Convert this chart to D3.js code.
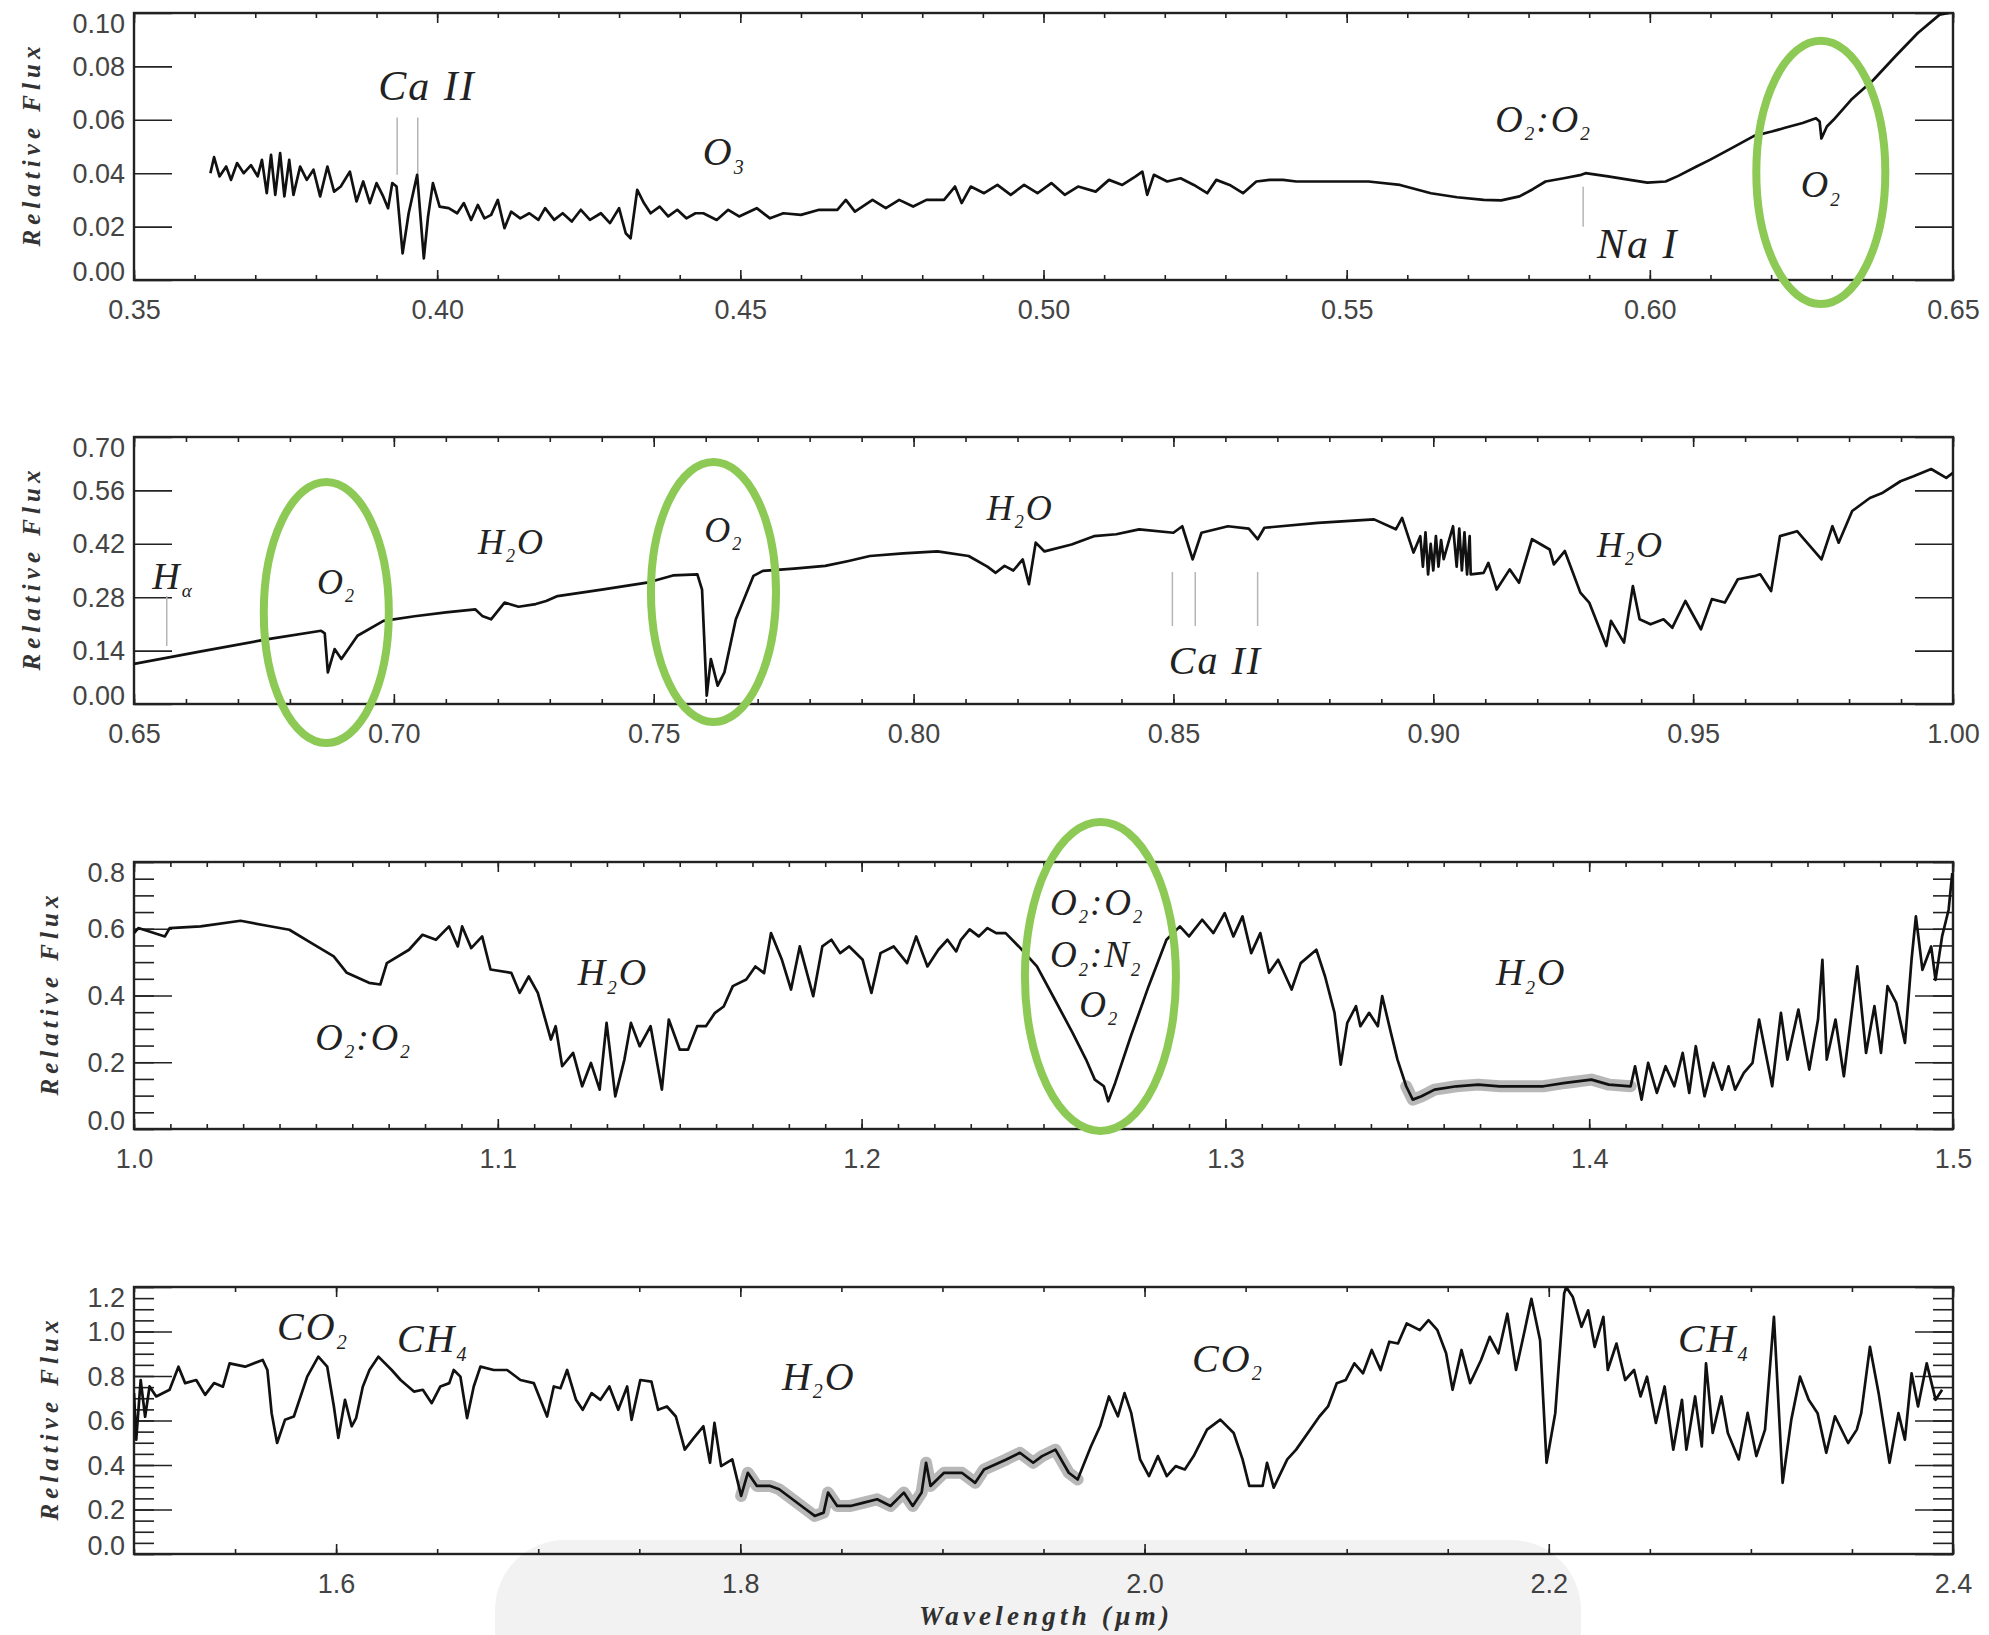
<!DOCTYPE html>
<html>
<head>
<meta charset="utf-8">
<script src="https://cdn.jsdelivr.net/npm/d3@7"></script>
<style>
  body { margin: 0; background: #fff; }
  svg { display: block; }
</style>
</head>
<body>
<div id="grafico"></div>
<script>
// Espectro visível (0.35 - 0.65 µm): [comprimento de onda, fluxo relativo]
const espectro1 = [
  [0.3626,0.040],[0.3632,0.046],[0.3641,0.0388],[0.3652,0.0425],[0.366,0.0375],[0.367,0.0438],[0.3681,0.040],
  [0.3693,0.043],[0.3704,0.0388],[0.3711,0.045],[0.3719,0.0325],[0.3726,0.0469],[0.3733,0.0319],[0.3741,0.0475],
  [0.3748,0.0313],[0.3756,0.045],[0.3763,0.0319],[0.3774,0.0425],[0.3785,0.0375],[0.3796,0.0413],[0.3807,0.0313],
  [0.3819,0.0425],[0.383,0.0331],[0.3841,0.035],[0.3856,0.0406],[0.3867,0.0294],[0.3878,0.0369],[0.3889,0.0288],
  [0.39,0.0363],[0.3911,0.0313],[0.3919,0.0269],[0.3926,0.0363],[0.3933,0.035],[0.3943,0.010],[0.3953,0.025],
  [0.3967,0.0394],[0.3978,0.0081],[0.3985,0.0238],[0.3993,0.0363],[0.4004,0.0275],[0.4019,0.0269],[0.4033,0.025],
  [0.4044,0.0288],[0.4056,0.0225],[0.4067,0.0281],[0.4078,0.0231],[0.4089,0.0244],[0.41,0.030],[0.4111,0.0194],
  [0.4122,0.0256],[0.4137,0.0231],[0.4152,0.025],[0.4167,0.0225],[0.4178,0.0269],[0.4193,0.0225],[0.4207,0.025],
  [0.4222,0.0219],[0.4237,0.0263],[0.4252,0.0225],[0.427,0.025],[0.4285,0.0213],[0.43,0.0269],[0.4311,0.0175],
  [0.4319,0.0156],[0.433,0.0338],[0.4341,0.0288],[0.4352,0.025],[0.4367,0.0275],[0.4381,0.0238],[0.4396,0.0263],
  [0.4411,0.0231],[0.4426,0.025],[0.4439,0.025],[0.4461,0.0225],[0.448,0.0263],[0.4498,0.0238],[0.4527,0.0269],
  [0.4549,0.0231],[0.4571,0.025],[0.46,0.0244],[0.463,0.0263],[0.466,0.0263],[0.4674,0.030],[0.4689,0.0256],
  [0.4718,0.030],[0.474,0.0269],[0.4762,0.030],[0.4785,0.0275],[0.4807,0.030],[0.4836,0.030],[0.4854,0.035],
  [0.4865,0.0288],[0.488,0.035],[0.4902,0.0325],[0.4924,0.0356],[0.4946,0.0319],[0.4968,0.0356],[0.499,0.0325],
  [0.5013,0.0363],[0.5035,0.0319],[0.5057,0.035],[0.5086,0.0331],[0.5108,0.0375],[0.513,0.0356],[0.5152,0.0388],
  [0.5163,0.0406],[0.5171,0.0319],[0.5182,0.0394],[0.5204,0.0369],[0.5226,0.0381],[0.5248,0.0356],[0.527,0.0325],
  [0.5285,0.0375],[0.5307,0.0356],[0.5329,0.0325],[0.5351,0.0369],[0.5373,0.0375],[0.5395,0.0375],[0.5417,0.0369],
  [0.5454,0.0369],[0.5498,0.0369],[0.5536,0.0369],[0.5588,0.0356],[0.5639,0.0325],[0.5682,0.031],[0.5726,0.030],
  [0.5755,0.0298],[0.5785,0.0313],[0.5807,0.034],[0.5828,0.0369],[0.5858,0.0381],[0.5887,0.0394],[0.5894,0.040],
  [0.5931,0.0388],[0.5967,0.0375],[0.5996,0.0365],[0.6026,0.0369],[0.6047,0.039],[0.6077,0.0425],[0.6099,0.045],
  [0.6135,0.0494],[0.6172,0.054],[0.6201,0.0556],[0.6223,0.057],[0.6252,0.0588],[0.6274,0.0606],[0.628,0.0594],
  [0.6283,0.053],[0.6292,0.0575],[0.6303,0.060],[0.6332,0.0675],[0.6369,0.075],[0.6405,0.0838],[0.6442,0.0925],
  [0.6478,0.0994],[0.6493,0.100]
];

// Espectro vermelho (0.65 - 1.00 µm)
const espectro2 = [
  [0.65,0.105],[0.6629,0.138],[0.6758,0.170],[0.686,0.192],[0.6867,0.185],[0.6873,0.083],[0.6886,0.144],
  [0.6899,0.118],[0.693,0.179],[0.698,0.218],[0.704,0.230],[0.710,0.240],[0.7157,0.248],[0.717,0.231],
  [0.7187,0.222],[0.7213,0.266],[0.724,0.255],[0.7273,0.262],[0.7293,0.270],[0.7315,0.283],[0.740,0.30],
  [0.7487,0.318],[0.7537,0.337],[0.7584,0.34],[0.7593,0.30],[0.7602,0.022],[0.761,0.118],[0.7623,0.048],
  [0.7636,0.083],[0.7658,0.222],[0.7692,0.336],[0.771,0.349],[0.777,0.355],[0.783,0.362],[0.7875,0.375],
  [0.7916,0.388],[0.798,0.395],[0.8046,0.40],[0.8106,0.388],[0.8142,0.36],[0.8158,0.344],[0.8175,0.362],
  [0.8192,0.35],[0.821,0.379],[0.8222,0.314],[0.8235,0.423],[0.8252,0.40],[0.8304,0.418],[0.8347,0.44],
  [0.839,0.445],[0.8434,0.458],[0.85,0.449],[0.8517,0.466],[0.8537,0.379],[0.8554,0.449],[0.8605,0.466],
  [0.8645,0.46],[0.8662,0.432],[0.8675,0.462],[0.8778,0.475],[0.8886,0.484],[0.8928,0.458],[0.894,0.488],
  [0.8962,0.397],[0.8975,0.44],[0.898,0.36],[0.8985,0.45],[0.899,0.34],[0.8995,0.42],[0.9,0.35],[0.9005,0.44],
  [0.901,0.36],[0.9015,0.43],[0.902,0.38],[0.9038,0.466],[0.9045,0.36],[0.905,0.46],[0.9055,0.35],[0.906,0.45],
  [0.9065,0.34],[0.907,0.44],[0.9072,0.34],[0.9097,0.344],[0.9106,0.37],[0.9122,0.30],[0.9147,0.353],
  [0.9165,0.318],[0.919,0.432],[0.9224,0.405],[0.9232,0.366],[0.9253,0.401],[0.9283,0.292],[0.930,0.266],
  [0.9333,0.152],[0.9342,0.218],[0.9367,0.161],[0.9384,0.309],[0.9397,0.222],[0.9418,0.209],[0.9443,0.222],
  [0.946,0.200],[0.9485,0.27],[0.9515,0.196],[0.9536,0.275],[0.9561,0.266],[0.9586,0.327],[0.962,0.336],
  [0.9629,0.34],[0.965,0.296],[0.9667,0.44],[0.97,0.453],[0.9747,0.379],[0.9768,0.466],[0.978,0.423],
  [0.9806,0.506],[0.984,0.54],[0.9865,0.554],[0.9899,0.584],[0.9924,0.597],[0.9958,0.616],[0.9987,0.593],
  [1.0,0.606]
];

// Infravermelho próximo (1.0 - 1.5 µm)
const espectro3 = [
  [1.0,0.587],[1.0012,0.602],[1.0085,0.577],[1.0098,0.602],[1.0183,0.607],[1.0293,0.624],[1.0366,0.609],
  [1.0427,0.597],[1.0488,0.557],[1.0549,0.517],[1.0585,0.468],[1.0646,0.438],[1.0677,0.433],[1.0695,0.497],
  [1.0756,0.537],[1.0793,0.582],[1.083,0.567],[1.0866,0.607],[1.089,0.547],[1.0902,0.607],[1.0927,0.542],
  [1.0957,0.577],[1.098,0.478],[1.1037,0.468],[1.106,0.408],[1.1085,0.457],[1.111,0.408],[1.1146,0.268],
  [1.1159,0.308],[1.1177,0.188],[1.1207,0.228],[1.1232,0.128],[1.1256,0.198],[1.128,0.118],[1.1299,0.318],
  [1.1323,0.098],[1.1348,0.208],[1.1366,0.318],[1.139,0.248],[1.142,0.308],[1.1451,0.118],[1.147,0.328],
  [1.15,0.238],[1.1523,0.238],[1.1548,0.308],[1.1572,0.308],[1.1597,0.348],[1.1621,0.367],[1.1646,0.428],
  [1.1683,0.448],[1.1708,0.487],[1.1732,0.467],[1.1751,0.587],[1.1781,0.507],[1.1806,0.418],[1.183,0.547],
  [1.1867,0.398],[1.1892,0.547],[1.1917,0.567],[1.1941,0.527],[1.1966,0.547],[1.2003,0.507],[1.2027,0.408],
  [1.2052,0.527],[1.2088,0.547],[1.2125,0.497],[1.215,0.577],[1.2181,0.487],[1.2211,0.537],[1.2236,0.567],
  [1.226,0.532],[1.2273,0.567],[1.2297,0.598],[1.2322,0.577],[1.2346,0.602],[1.237,0.587],[1.2396,0.587],
  [1.2432,0.547],[1.2482,0.487],[1.2531,0.388],
  [1.258,0.288],[1.2617,0.208],[1.2641,0.148],[1.2666,0.128],[1.2678,0.083],[1.2697,0.138],[1.274,0.278],
  [1.2789,0.428],[1.2838,0.567],[1.2875,0.607],[1.29,0.577],[1.2936,0.627],[1.2967,0.587],[1.2998,0.647],
  [1.3022,0.577],[1.3047,0.637],[1.3071,0.527],[1.3096,0.587],[1.312,0.468],[1.3145,0.507],[1.3182,0.418],
  [1.3207,0.497],[1.325,0.537],[1.3274,0.457],[1.33,0.348],[1.3317,0.193],[1.3335,0.318],[1.3359,0.368],
  [1.3371,0.308],[1.3395,0.348],[1.3419,0.308],[1.3431,0.398],[1.3455,0.288],[1.3473,0.208],[1.3497,0.128],
  [1.3515,0.088],[1.3539,0.098],[1.3575,0.118],[1.3635,0.128],[1.3695,0.133],[1.3754,0.128],[1.3814,0.128],
  [1.3874,0.128],[1.3934,0.138],[1.4006,0.148],[1.4054,0.133],[1.4114,0.128],[1.4126,0.188],[1.4144,0.088],
  [1.4162,0.198],[1.4186,0.108],[1.421,0.188],[1.4234,0.128],[1.4257,0.228],[1.4275,0.108],[1.4293,0.248],
  [1.4317,0.098],[1.4341,0.198],[1.4365,0.118],[1.4383,0.188],[1.4401,0.118],[1.4425,0.168],[1.4449,0.198],
  [1.4467,0.328],[1.4485,0.228],[1.4503,0.128],[1.4527,0.348],[1.4545,0.208],[1.4575,0.358],[1.4605,0.178],
  [1.4629,0.328],[1.4641,0.507],[1.4653,0.208],[1.4677,0.328],[1.47,0.158],[1.4737,0.487],[1.4761,0.228],
  [1.4784,0.368],[1.4802,0.228],[1.482,0.428],[1.4844,0.378],[1.4868,0.258],[1.4886,0.507],[1.4898,0.637],
  [1.4916,0.477],[1.494,0.547],[1.4952,0.447],[1.497,0.577],[1.4988,0.657],[1.4998,0.767]
];

// Infravermelho (1.5 - 2.4 µm)
const espectro4 = [
  [1.5,0.723],[1.5011,0.514],[1.5033,0.782],[1.5055,0.617],[1.5077,0.753],[1.511,0.708],[1.5176,0.738],
  [1.522,0.842],[1.5253,0.768],[1.5308,0.782],[1.5352,0.715],[1.5396,0.768],[1.544,0.752],[1.5473,0.857],
  [1.555,0.842],[1.5637,0.872],[1.566,0.827],[1.5681,0.633],[1.5708,0.499],[1.5747,0.603],[1.5791,0.618],
  [1.5857,0.797],[1.5912,0.887],[1.5956,0.842],[1.5989,0.663],[1.6011,0.522],[1.6044,0.693],[1.6077,0.574],
  [1.6099,0.611],[1.6132,0.752],[1.6165,0.827],[1.6209,0.887],[1.6275,0.827],[1.6319,0.782],[1.6385,0.730],
  [1.6429,0.738],[1.6473,0.678],[1.6516,0.753],[1.656,0.768],[1.6582,0.827],[1.6615,0.797],[1.6648,0.611],
  [1.6681,0.753],[1.6714,0.842],[1.678,0.827],[1.6846,0.827],[1.6912,0.782],[1.6978,0.768],[1.7044,0.618],
  [1.7077,0.753],[1.711,0.745],[1.7143,0.827],[1.7187,0.693],[1.722,0.648],[1.7264,0.723],[1.7308,0.693],
  [1.7352,0.753],[1.7396,0.648],[1.744,0.753],[1.7462,0.603],[1.7505,0.782],[1.756,0.775],[1.7593,0.648],
  [1.7637,0.663],[1.7681,0.618],[1.7725,0.469],[1.7769,0.521],[1.7817,0.574],[1.785,0.41],[1.7872,0.589],
  [1.7905,0.395],[1.796,0.425],[1.8004,0.261],[1.8037,0.365],[1.8082,0.306],[1.8148,0.306],[1.8192,0.291],
  [1.8258,0.246],[1.8324,0.201],[1.8368,0.171],[1.8412,0.186],[1.8434,0.276],[1.8479,0.216],[1.8545,0.216],
  [1.8611,0.231],[1.8677,0.246],[1.8743,0.216],[1.8809,0.276],[1.8853,0.216],[1.8897,0.276],[1.8919,0.41],
  [1.8941,0.306],[1.9008,0.365],[1.9096,0.365],[1.9162,0.32],[1.9206,0.38],[1.9316,0.425],[1.9383,0.455],
  [1.9449,0.41],[1.9493,0.44],[1.9559,0.469],[1.9625,0.365],[1.9669,0.335],[1.9735,0.484],[1.978,0.574],
  [1.9824,0.708],[1.9868,0.619],[1.9901,0.723],[1.9934,0.634],[1.9978,0.425],[2.0022,0.35],[2.0066,0.44],
  [2.011,0.35],[2.0154,0.395],[2.0199,0.38],[2.0243,0.44],[2.0309,0.559],[2.0375,0.604],[2.0441,0.544],
  [2.0485,0.425],[2.0518,0.306],[2.0584,0.306],[2.0606,0.41],[2.0639,0.298],[2.0706,0.425],[2.075,0.469],
  [2.0865,0.618],[2.0908,0.663],[2.0951,0.767],[2.0995,0.782],[2.1038,0.857],[2.1081,0.812],[2.1124,0.917],
  [2.1168,0.827],[2.1211,0.954],[2.1254,0.946],[2.1297,1.036],[2.1362,1.006],[2.1405,1.051],[2.1449,1.006],
  [2.1492,0.902],[2.1524,0.738],[2.1568,0.917],[2.1611,0.768],[2.1665,0.872],[2.1708,0.976],[2.1751,0.902],
  [2.1795,1.080],[2.1838,0.827],[2.1881,1.006],[2.1914,1.147],[2.1957,0.961],[2.1989,0.41],[2.2032,0.633],
  [2.2076,1.17],[2.2086,1.2],[2.2119,1.155],[2.2162,1.021],[2.2195,1.095],[2.2227,0.931],[2.227,1.066],
  [2.2292,0.827],[2.2335,0.946],[2.2378,0.782],[2.2422,0.827],[2.2454,0.708],[2.2486,0.797],[2.253,0.589],
  [2.2573,0.753],[2.2616,0.469],[2.2659,0.693],[2.2681,0.469],[2.2724,0.708],[2.2757,0.484],[2.2778,0.857],
  [2.2811,0.544],[2.2854,0.708],[2.2886,0.544],[2.294,0.425],[2.2984,0.634],[2.3027,0.44],[2.307,0.559],
  [2.3114,1.066],[2.3157,0.32],[2.32,0.604],[2.3243,0.797],[2.3286,0.693],[2.333,0.633],[2.3373,0.455],
  [2.3416,0.619],[2.3481,0.499],[2.3524,0.559],[2.3546,0.633],[2.3589,0.931],[2.3632,0.723],[2.3686,0.41],
  [2.373,0.633],[2.3762,0.514],[2.3795,0.812],[2.3827,0.663],[2.387,0.857],[2.3914,0.693],[2.3946,0.738]
];

// Marcas dos eixos
const ticksY1 = [0, 0.02, 0.04, 0.06, 0.08, 0.10];
const ticksY2 = [0, 0.14, 0.28, 0.42, 0.56, 0.70];
const ticksY3 = [0, 0.2, 0.4, 0.6, 0.8];
const ticksY4 = [0, 0.2, 0.4, 0.6, 0.8, 1.0, 1.2];
const ticksX1 = [0.35, 0.40, 0.45, 0.50, 0.55, 0.60, 0.65];
const ticksX2 = [0.65, 0.70, 0.75, 0.80, 0.85, 0.90, 0.95, 1.00];
const ticksX3 = [1.0, 1.1, 1.2, 1.3, 1.4, 1.5];
const ticksX4 = [1.6, 1.8, 2.0, 2.2, 2.4];

// Linhas atômicas marcadas (Ca II, Na I, H-alfa)
const linhasCa1 = [0.3934, 0.3968];
const linhasNa = [0.589];
const linhasHa = [0.6563];
const linhasCa2 = [0.8498, 0.8542, 0.8662];

// Configuração geral
const largura = 1989;
const altura = 1635;
const esquerda = 134;
const larguraPlot = 1819;
const alturaPlot = 267;
const verde = '#8cc955';

const svg = d3.select('#grafico')
  .append('svg')
  .attr('width', largura)
  .attr('height', altura)
  .style('font-family', '"Liberation Sans", Arial, sans-serif');

const paineis = [
  {
    serie: espectro1, xDom: [0.35, 0.65], yDom: [0, 0.10], topo: 13,
    yTicks: ticksY1, yMenor: [], xTicks: ticksX1, xMenor: 0.01, fx: '.2f', fy: '.2f', rotX: 32,
    linhas: [{ wl: linhasCa1, y0: 0.0394, y1: 0.0609 }, { wl: linhasNa, y0: 0.0199, y1: 0.0349 }],
    textos: [
      ['Ca  II', 0.3903, 0.0675, 42], ['O_3', 0.4438, 0.043, 40], ['O_2:O_2', 0.5745, 0.0555, 38],
      ['Na  I', 0.5913, 0.0082, 42], ['O_2', 0.6249, 0.031, 38]
    ],
    elipses: [[0.6169, 0.6395, 0.0911, -0.0105]]
  },
  {
    serie: espectro2, xDom: [0.65, 1.00], yDom: [0, 0.70], topo: 437,
    yTicks: ticksY2, yMenor: [], xTicks: ticksX2, xMenor: 0.01, fx: '.2f', fy: '.2f', rotX: 32,
    linhas: [{ wl: linhasHa, y0: 0.152, y1: 0.283 }, { wl: linhasCa2, y0: 0.2045, y1: 0.346 }],
    textos: [
      ['H_α', 0.6535, 0.3015, 38], ['O_2', 0.6852, 0.288, 36], ['H_2O', 0.7162, 0.393, 36],
      ['O_2', 0.7597, 0.425, 36], ['H_2O', 0.8141, 0.482, 36], ['Ca  II', 0.8491, 0.0787, 40],
      ['H_2O', 0.9315, 0.385, 36]
    ],
    elipses: [[0.6742, 0.6998, 0.5926, -0.1127], [0.7487, 0.7743, 0.645, -0.0577]]
  },
  {
    serie: espectro3, xDom: [1.0, 1.5], yDom: [0, 0.8], topo: 862,
    yTicks: ticksY3, yMenor: 0.05, xTicks: ticksX3, xMenor: 0.01, fx: '.1f', fy: '.1f', rotX: 50,
    faixa: [1.349, 1.4125],
    linhas: [],
    textos: [
      ['O_2:O_2', 1.0498, 0.2367, 38], ['H_2O', 1.122, 0.431, 38], ['O_2:O_2', 1.2518, 0.642, 37],
      ['O_2:N_2', 1.2518, 0.484, 37], ['O_2', 1.2598, 0.3356, 37], ['H_2O', 1.3744, 0.431, 38]
    ],
    elipses: [[1.2438, 1.2875, 0.932, -0.018]]
  },
  {
    serie: espectro4, xDom: [1.5, 2.4], yDom: [0, 1.2], topo: 1287,
    yTicks: ticksY4, yMenor: 0.05, xTicks: ticksX4, xMenor: 0.05, fx: '.1f', fy: '.1f', rotX: 50,
    faixa: [1.80, 1.97],
    linhas: [],
    textos: [
      ['CO_2', 1.5708, 0.963, 40], ['CH_4', 1.6301, 0.909, 40], ['H_2O', 1.8206, 0.739, 40],
      ['CO_2', 2.0235, 0.8195, 40], ['CH_4', 2.2639, 0.909, 40]
    ],
    elipses: []
  }
];

// Escreve um rótulo com subscritos ("_" marca o caractere seguinte como subscrito)
function escreveRotulo(g, texto, x, y, tamanho) {
  const t = g.append('text')
    .attr('x', x).attr('y', y)
    .style('font-family', '"Liberation Serif", "Times New Roman", serif')
    .style('font-style', 'italic')
    .style('font-size', tamanho + 'px')
    .style('letter-spacing', '2px')
    .attr('fill', '#222');
  let i = 0;
  let sub = false;
  while (i < texto.length) {
    if (texto[i] === '_') {
      t.append('tspan').attr('dy', tamanho * 0.22).style('font-size', (tamanho * 0.5) + 'px')
        .text(texto[i + 1]);
      sub = true;
      i += 2;
    } else {
      let j = i;
      while (j < texto.length && texto[j] !== '_') j++;
      t.append('tspan').attr('dy', sub ? -tamanho * 0.22 : 0).text(texto.slice(i, j));
      sub = false;
      i = j;
    }
  }
}

const linhaPreta = d3.line();

paineis.forEach(function(p, k) {
  const g = svg.append('g').attr('transform', `translate(${esquerda}, ${p.topo})`);

  const x = d3.scaleLinear().domain(p.xDom).range([0, larguraPlot]);
  const y = d3.scaleLinear().domain(p.yDom).range([alturaPlot, 0]);

  // recorte da área do gráfico
  g.append('clipPath').attr('id', 'recorte' + k)
    .append('rect').attr('width', larguraPlot).attr('height', alturaPlot);

  // marcas menores (x)
  const xMenores = d3.range(Math.round(p.xDom[0] / p.xMenor), Math.round(p.xDom[1] / p.xMenor) + 1)
    .map(d => +(d * p.xMenor).toFixed(3));
  g.append('g').attr('class', 'eixo').attr('transform', `translate(0, ${alturaPlot})`)
    .call(d3.axisBottom(x).tickValues(xMenores).tickSize(-5).tickSizeOuter(0).tickFormat(''));
  g.append('g').attr('class', 'eixo')
    .call(d3.axisTop(x).tickValues(xMenores).tickSize(-5).tickSizeOuter(0).tickFormat(''));

  // marcas principais (x) e rótulos
  g.append('g').attr('class', 'eixo rot').attr('transform', `translate(0, ${alturaPlot})`)
    .call(d3.axisBottom(x).tickValues(p.xTicks).tickSize(-10).tickSizeOuter(0)
      .tickPadding(20).tickFormat(d3.format(p.fx)));
  g.append('g').attr('class', 'eixo')
    .call(d3.axisTop(x).tickValues(p.xTicks).tickSize(-10).tickSizeOuter(0).tickFormat(''));

  // marcas menores (y)
  if (p.yMenor) {
    const yMenores = d3.range(0, Math.round(p.yDom[1] / p.yMenor) + 1).map(d => +(d * p.yMenor).toFixed(3));
    g.append('g').attr('class', 'eixo')
      .call(d3.axisLeft(y).tickValues(yMenores).tickSize(-20).tickSizeOuter(0).tickFormat(''));
    g.append('g').attr('class', 'eixo').attr('transform', `translate(${larguraPlot}, 0)`)
      .call(d3.axisRight(y).tickValues(yMenores).tickSize(-20).tickSizeOuter(0).tickFormat(''));
  }

  // marcas principais (y) e rótulos
  const eixoY = g.append('g').attr('class', 'eixo rot')
    .call(d3.axisLeft(y).tickValues(p.yTicks).tickSize(-38).tickSizeOuter(0)
      .tickPadding(9).tickFormat(d3.format(p.fy)));
  eixoY.selectAll('.tick text').attr('dy', (d, i, n) =>
    i === n.length - 1 ? '0.72em' : (i === 0 ? '0.02em' : '0.34em'));
  g.append('g').attr('class', 'eixo').attr('transform', `translate(${larguraPlot}, 0)`)
    .call(d3.axisRight(y).tickValues(p.yTicks).tickSize(-38).tickSizeOuter(0).tickFormat(''));

  // moldura
  g.append('rect').attr('width', larguraPlot).attr('height', alturaPlot)
    .attr('fill', 'none').attr('stroke', '#222').attr('stroke-width', 2.4);

  // linhas atômicas (cinza fino)
  p.linhas.forEach(function(l) {
    g.selectAll(null).data(l.wl).enter().append('line')
      .attr('x1', d => x(d)).attr('x2', d => x(d))
      .attr('y1', y(l.y0)).attr('y2', y(l.y1))
      .attr('stroke', '#b5b5b5').attr('stroke-width', 1.5);
  });

  const area = g.append('g').attr('clip-path', `url(#recorte${k})`);
  linhaPreta.x(d => x(d[0])).y(d => y(d[1]));

  // faixa de erro (cinza) sob o espectro
  if (p.faixa) {
    area.append('path')
      .datum(p.serie.filter(d => d[0] >= p.faixa[0] && d[0] <= p.faixa[1]))
      .attr('fill', 'none').attr('stroke', '#9a9a9a').attr('stroke-opacity', 0.7)
      .attr('stroke-width', 12).attr('stroke-linejoin', 'round').attr('stroke-linecap', 'round')
      .attr('d', linhaPreta);
  }

  // espectro
  area.append('path')
    .datum(p.serie)
    .attr('fill', 'none').attr('stroke', '#111').attr('stroke-width', 2.7)
    .attr('stroke-linejoin', 'round')
    .attr('d', linhaPreta);

  // rótulos das moléculas
  p.textos.forEach(t => escreveRotulo(g, t[0], x(t[1]), y(t[2]), t[3]));

  // elipses verdes
  p.elipses.forEach(function(e) {
    g.append('ellipse')
      .attr('cx', (x(e[0]) + x(e[1])) / 2).attr('cy', (y(e[2]) + y(e[3])) / 2)
      .attr('rx', (x(e[1]) - x(e[0])) / 2 - 4).attr('ry', (y(e[3]) - y(e[2])) / 2 - 4)
      .attr('fill', 'none').attr('stroke', verde).attr('stroke-width', 8);
  });

  // título do eixo y
  svg.append('text')
    .attr('transform', `translate(${p.rotX + 8}, ${p.topo + alturaPlot / 2}) rotate(-90)`)
    .attr('text-anchor', 'middle')
    .attr('textLength', 200).attr('lengthAdjust', 'spacing')
    .style('font-family', '"Liberation Serif", "Times New Roman", serif')
    .style('font-style', 'italic').style('font-weight', 'bold')
    .style('font-size', '25px').attr('fill', '#333')
    .text('Relative Flux');
});

// estilo dos eixos
svg.selectAll('.eixo path').attr('stroke', 'none');
svg.selectAll('.eixo line').attr('stroke', '#222').attr('stroke-width', 1.6);
svg.selectAll('.rot text').attr('fill', '#444').style('font-size', '27px')
  .style('font-family', '"Liberation Sans", Arial, sans-serif');

// título do eixo x
svg.append('text')
  .attr('x', 1044).attr('y', 1625)
  .attr('text-anchor', 'middle')
  .attr('textLength', 250).attr('lengthAdjust', 'spacing')
  .style('font-family', '"Liberation Serif", "Times New Roman", serif')
  .style('font-style', 'italic').style('font-weight', 'bold')
  .style('font-size', '27px').attr('fill', '#333')
  .text('Wavelength (µm)');

// barra cinza translúcida do visualizador (sobreposta na captura original)
svg.append('rect')
  .attr('x', 495).attr('y', 1540).attr('width', 1086).attr('height', 160).attr('rx', 70)
  .attr('fill', '#000').attr('fill-opacity', 0.05);
</script>
</body>
</html>
